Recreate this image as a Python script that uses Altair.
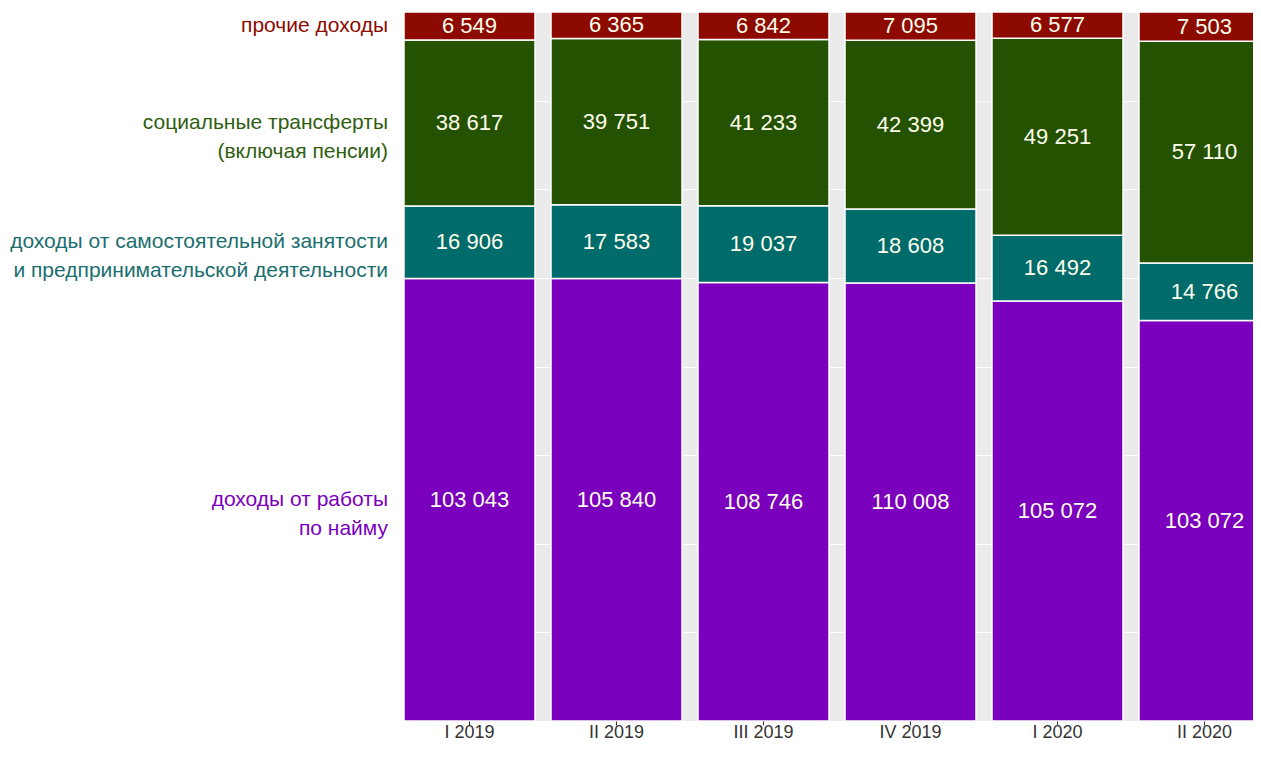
import altair as alt
import pandas as pd

quarters = ["I 2019", "II 2019", "III 2019", "IV 2019", "I 2020", "II 2020"]

# bottom -> top
categories = [
    "доходы от работы по найму",
    "доходы от самостоятельной занятости и предпринимательской деятельности",
    "социальные трансферты (включая пенсии)",
    "прочие доходы",
]
category_labels = [
    "доходы от работы\nпо найму",
    "доходы от самостоятельной занятости\nи предпринимательской деятельности",
    "социальные трансферты\n(включая пенсии)",
    "прочие доходы",
]
wages = [103043, 105840, 108746, 110008, 105072, 103072]
self_employment = [16906, 17583, 19037, 18608, 16492, 14766]
social_transfers = [38617, 39751, 41233, 42399, 49251, 57110]
other_income = [6549, 6365, 6842, 7095, 6577, 7503]

bar_colors = ["#7B00BD", "#006B6B", "#245200", "#8C0A00"]
label_colors = ["#7B00BD", "#1A6E6E", "#2F5E10", "#8C0A00"]

FONT = "Liberation Sans, Arial, sans-serif"

series = [wages, self_employment, social_transfers, other_income]
rows = []
for qi, q in enumerate(quarters):
    total = sum(s[qi] for s in series)
    acc = 0.0
    for ci, cat in enumerate(categories):
        v = series[ci][qi]
        y0 = acc / total
        acc += v
        y1 = acc / total
        rows.append({
            "quarter": q,
            "category": cat,
            "order": ci,
            "value": v,
            "y0": y0,
            "y1": y1,
            "mid": (y0 + y1) / 2,
            "label": f"{v:,}".replace(",", " "),
        })
df = pd.DataFrame(rows)

# bands of 147 px with 16 px gaps; the last bar runs past the right edge as in the source
x_scale = alt.Scale(range=[0, 866], paddingInner=16 / 147, paddingOuter=0)
x_enc = alt.X(
    "quarter:N",
    sort=quarters,
    scale=x_scale,
    axis=alt.Axis(
        title=None, labelAngle=0, labelFont=FONT, labelFontSize=18,
        labelColor="#333333", tickColor="#333333", tickSize=4, tickWidth=1,
        domain=False, grid=False, labelPadding=-2,
    ),
)
y_scale = alt.Scale(domain=[0, 1], nice=False)

bars = alt.Chart(df).mark_bar(stroke="white", strokeWidth=1.5, clip=True).encode(
    x=x_enc,
    y=alt.Y(
        "y0:Q", scale=y_scale,
        axis=alt.Axis(
            title=None, values=[i / 8 for i in range(9)], grid=True,
            gridColor="white", gridWidth=1, labels=False, ticks=False, domain=False,
        ),
    ),
    y2="y1:Q",
    color=alt.Color("category:N", scale=alt.Scale(domain=categories, range=bar_colors), legend=None),
)

values = alt.Chart(df).mark_text(font=FONT, fontSize=22, color="#FFFFEE", baseline="middle").encode(
    x=alt.X("quarter:N", sort=quarters),
    y=alt.Y("mid:Q", scale=y_scale),
    text="label:N",
)

first = df[df["quarter"] == quarters[0]]
label_layers = []
for ci, cat in enumerate(categories):
    sub = first[first["category"] == cat].copy()
    sub["lab"] = category_labels[ci]
    label_layers.append(
        alt.Chart(sub).mark_text(
            font=FONT, fontSize=21, align="right", baseline="middle",
            lineBreak="\n", lineHeight=29, color=label_colors[ci],
        ).encode(
            x=alt.value(-16),
            y=alt.Y("mid:Q", scale=y_scale),
            text="lab:N",
        )
    )

chart = alt.layer(bars, values, *label_layers).properties(
    width=849,
    height=709,
    autosize=alt.AutoSizeParams(type="none"),
    padding={"left": 396, "top": 4, "right": 0, "bottom": 21},
    background="white",
).configure_view(fill="#EBEBEB", strokeWidth=0)

chart.save("out.html", embed_options={"renderer": "svg", "actions": False})
